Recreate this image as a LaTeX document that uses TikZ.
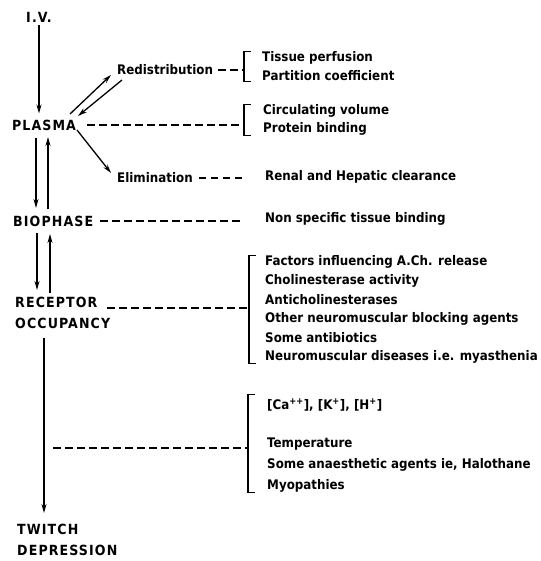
\documentclass[tikz,border=0pt]{standalone}
\usepackage{fontspec}
\setmainfont{DejaVu Sans Condensed}
\usetikzlibrary{arrows.meta}
\begin{document}
\begin{tikzpicture}[x=1pt,y=-1pt,
  lbl/.style={font=\fontsize{13.2}{15}\selectfont\bfseries, inner sep=0pt, anchor=west},
  stage/.style={font=\fontsize{14}{21}\selectfont\bfseries\addfontfeature{LetterSpace=8}, inner sep=0pt, align=left},
  flow/.style={-{Stealth[length=9pt,width=5pt]}, line width=1.3pt},
  link/.style={dash pattern=on 7.5pt off 4.5pt, line width=1.3pt},
  brk/.style={line width=1.3pt}]
\useasboundingbox (0,0) rectangle (540,561);

% main chain of compartments
\node[stage] (iv) at (39,17) {I.V.};
\node[stage] (plasma) at (44,125) {PLASMA};
\node[stage, anchor=west] (bio) at (13,221) {BIOPHASE};
\node[stage, anchor=north west] (rec) at (15,297) {RECEPTOR\\OCCUPANCY};
\node[stage, anchor=north west] (tw) at (17,524) {TWITCH\\DEPRESSION};

\node[lbl] (redis) at (117,70) {Redistribution};
\node[lbl] (elim) at (117,178) {Elimination};

% factors on the right
\node[lbl] (t1) at (262,58) {Tissue perfusion};
\node[lbl] (t2) at (262,76) {Partition coefficient};
\node[lbl] (c1) at (263,111) {Circulating volume};
\node[lbl] (c2) at (263,129) {Protein binding};
\node[lbl] (r1) at (265,177) {Renal and Hepatic clearance};
\node[lbl] (n1) at (265,219) {Non specific tissue binding};
\node[lbl] (f1) at (265,262) {Factors influencing A.Ch. release};
\node[lbl] (f2) at (265,281) {Cholinesterase activity};
\node[lbl] (f3) at (265,300) {Anticholinesterases};
\node[lbl] (f4) at (265,319) {Other neuromuscular blocking agents};
\node[lbl] (f5) at (265,338) {Some antibiotics};
\node[lbl] (f6) at (265,357) {Neuromuscular diseases i.e. myasthenia};
\node[lbl] (m1) at (267,405) {[Ca\textsuperscript{++}], [K\textsuperscript{+}], [H\textsuperscript{+}]};
\node[lbl] (m2) at (267,444) {Temperature};
\node[lbl] (m3) at (267,465) {Some anaesthetic agents ie, Halothane};
\node[lbl] (m4) at (267,486) {Myopathies};

% brackets
\coordinate (b1) at (244,70);
\coordinate (b2) at (244,125);
\coordinate (b3) at (249,308);
\coordinate (b4) at (248,447);
\draw[brk] ([xshift=7]b1 |- t1.north) -- (b1 |- t1.north) -- (b1 |- t2.south) -- ([xshift=7]b1 |- t2.south);
\draw[brk] ([xshift=7]b2 |- c1.north) -- (b2 |- c1.north) -- (b2 |- c2.south) -- ([xshift=7]b2 |- c2.south);
\draw[brk] ([xshift=7]b3 |- f1.north) -- (b3 |- f1.north) -- (b3 |- f6.south) -- ([xshift=7]b3 |- f6.south);
\draw[brk] ([shift={(7,-4)}]b4 |- m1.north) -- ([yshift=4]b4 |- m1.north) -- (b4 |- m4.south) -- ([xshift=7]b4 |- m4.south);

% flow arrows
\draw[flow, shorten <=3pt, shorten >=6pt] (iv.south) -- (iv.south |- plasma.north);
\draw[flow] ([shift={(26,-11)}]plasma.center) -- ([shift={(-6,5)}]redis.west);
\draw[flow] ([shift={(5,10)}]redis.west) -- ([shift={(34,-9)}]plasma.center);
\draw[flow] ([shift={(33,5)}]plasma.center) -- ([shift={(-6,-5)}]elim.west);
\draw[flow] ([shift={(-8,13)}]plasma.center) -- ([shift={(-8,-13)}]plasma.center |- bio.center);
\draw[flow] ([shift={(4,-12)}]plasma.center |- bio.center) -- ([shift={(4,12)}]plasma.center);
\draw[flow] ([shift={(-7,12)}]plasma.center |- bio.center) -- ([shift={(-7,-7)}]plasma.center |- rec.north);
\draw[flow] ([shift={(6,-4)}]plasma.center |- rec.north) -- ([shift={(6,13)}]plasma.center |- bio.center);
\draw[flow] ([xshift=29pt,yshift=-9pt]rec.south west) -- ([xshift=27pt,yshift=11pt]tw.north west);

% dashed links to the factors
\coordinate (tm) at (53,448);
\draw[link] ([xshift=5]redis.east) -- (b1);
\draw[link] ([xshift=43]plasma.center) -- (b2);
\draw[link] ([xshift=6]elim.east) -- (elim.east -| b1);
\draw[link] ([xshift=7]bio.east) -- (bio.east -| b1);
\draw[link] ([xshift=92]rec.west |- b3) -- (b3);
\draw[link] (tm) -- (tm -| b4);
\end{tikzpicture}
\end{document}
